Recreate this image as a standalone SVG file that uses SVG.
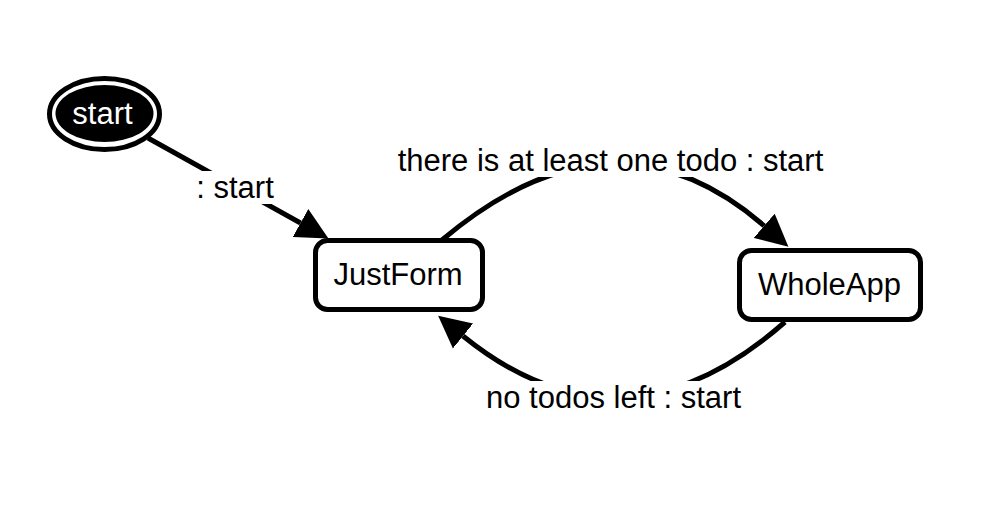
<svg xmlns="http://www.w3.org/2000/svg" width="994" height="508" viewBox="0 0 994 508">
<defs>
<style>
text { font-family: "Liberation Sans", Arial, Helvetica, sans-serif; font-size: 31px; fill: #000; text-anchor: middle; }
.node rect { fill: #fff; stroke: #000; stroke-width: 5; }
.edge { fill: none; stroke: #000; stroke-width: 5; marker-end: url(#arr); }
.lblbg { fill: #fff; stroke: none; }
</style>
<marker id="arr" markerUnits="userSpaceOnUse" markerWidth="33" markerHeight="33" viewBox="0 0 33 32" refX="0" refY="16" orient="auto">
<path d="M0,0 L32,16 L0,32 z" fill="#000"/>
</marker>
</defs>
<rect width="994" height="508" fill="#fff"/>
<g id="connectors">
<path class="edge" d="M148,138 L300.5,223"/>
<path class="edge" d="M442,240 Q613.5,95.3 764.2,225.8"/>
<path class="edge" d="M785,322 Q622.3,465 463,336"/>
<rect class="lblbg" x="194" y="171" width="82" height="33"/>
<text x="235" y="198">: start</text>
<rect class="lblbg" x="396" y="144" width="429" height="33"/>
<text x="610.5" y="171">there is at least one todo : start</text>
<rect class="lblbg" x="482" y="381" width="263" height="33"/>
<text x="613.5" y="408">no todos left : start</text>
</g>
<g id="start">
<ellipse cx="104.5" cy="114" rx="55" ry="35.5" fill="#fff" stroke="#000" stroke-width="5"/>
<ellipse cx="104.5" cy="113.5" rx="49" ry="28.5" fill="#000"/>
<text x="102.5" y="124" style="fill:#fff">start</text>
</g>
<g id="JustForm" class="node">
<rect x="315.5" y="240.5" width="167" height="69" rx="12" ry="12"/>
<text x="398" y="285">JustForm</text>
</g>
<g id="WholeApp" class="node">
<rect x="739.5" y="250.5" width="181" height="69" rx="12" ry="12"/>
<text x="829.5" y="295">WholeApp</text>
</g>
</svg>
